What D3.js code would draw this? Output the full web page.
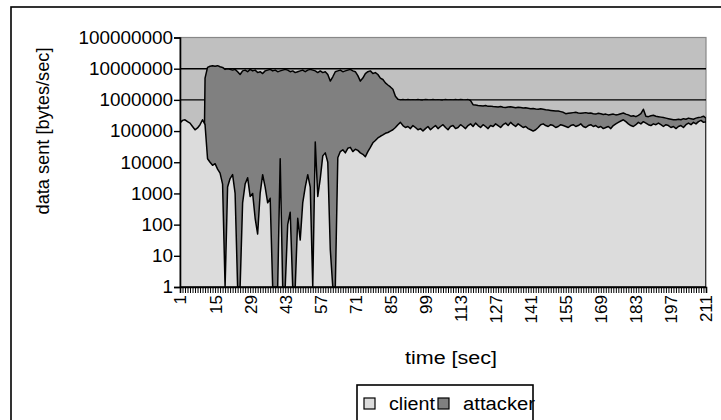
<!DOCTYPE html>
<html>
<head>
<meta charset="utf-8">
<script src="https://cdn.jsdelivr.net/npm/d3@7"></script>
<style>
  html, body { margin: 0; padding: 0; background: #ffffff; }
  svg { display: block; font-family: "Liberation Sans", Arial, sans-serif; }
</style>
</head>
<body>
<svg id="chart" width="721" height="420"></svg>
<script>
// ---- data ----
const categories = d3.range(1, 212);           // time [sec] 1..211
const tickLabels = [1, 15, 29, 43, 57, 71, 85, 99, 113, 127, 141, 155, 169, 183, 197, 211];
const yTicks = [1, 10, 100, 1000, 10000, 100000, 1000000, 10000000, 100000000];
const seriesNames = ["client", "attacker"];

const client = [
  1.8e5,2.2e5,2.3e5,2.0e5,1.8e5,1.4e5,1.1e5,1.26e5,1.6e5,2.3e5,
  1.6e5,1.3e4,1.0e4,8e3,9e3,6e3,4.5e3,2e3,1,1.6e3,
  3e3,4e3,1e3,1,1,500,2e3,3.2e3,800,1e3,
  160,50,1e3,4e3,1.6e3,500,700,1,1,1,
  1.3e4,1,1,100,250,1,1,160,32,500,
  1.6e3,4e3,1.6e3,1,4.5e4,800,3e3,1.6e4,2e4,1e4,
  16,1,1,1.4e4,2.2e4,2.5e4,2.0e4,2.8e4,3e4,2.2e4,
  2.6e4,2.4e4,2.0e4,1.8e4,1.5e4,2.2e4,3e4,4.2e4,5e4,6e4,
  6.8e4,7.5e4,8.5e4,9e4,1.0e5,1.1e5,1.3e5,1.6e5,1.9e5,1.5e5,
  1.3e5,1.4e5,1.2e5,1.5e5,1.3e5,1.1e5,1.2e5,1.0e5,1.2e5,1.4e5,
  1.1e5,1.3e5,1.5e5,1.2e5,1.4e5,1.6e5,1.3e5,1.1e5,1.4e5,1.5e5,
  1.2e5,1.3e5,1.6e5,1.4e5,1.2e5,1.5e5,1.7e5,1.4e5,1.8e5,1.5e5,
  1.3e5,1.6e5,1.4e5,1.2e5,1.5e5,1.4e5,1.7e5,1.5e5,1.3e5,1.6e5,
  1.8e5,1.5e5,1.9e5,1.6e5,1.4e5,1.7e5,1.5e5,1.3e5,1.4e5,1.2e5,
  1.1e5,1.0e5,1.1e5,1.3e5,1.6e5,1.7e5,1.5e5,1.4e5,1.6e5,1.5e5,
  1.3e5,1.4e5,1.6e5,1.5e5,1.4e5,1.3e5,1.5e5,1.6e5,1.4e5,1.5e5,
  1.7e5,1.4e5,1.3e5,1.5e5,1.6e5,1.4e5,1.5e5,1.3e5,1.4e5,1.2e5,
  1.3e5,1.4e5,1.2e5,1.5e5,1.7e5,1.9e5,2.1e5,2.3e5,2.0e5,1.7e5,
  1.5e5,1.4e5,1.6e5,1.9e5,1.7e5,2.0e5,1.8e5,1.6e5,1.5e5,1.7e5,
  1.6e5,1.8e5,1.6e5,1.4e5,1.6e5,1.5e5,1.3e5,1.4e5,1.2e5,1.4e5,
  1.5e5,1.3e5,1.6e5,1.8e5,1.6e5,1.9e5,1.7e5,2.0e5,2.2e5,1.9e5,
  2.0e5
];

const attacker = [
  1,1,1,1,1,1,1,1,1,1,
  5e6,1.1e7,1.2e7,1.25e7,1.2e7,1.25e7,1.15e7,1.1e7,9.5e6,1.0e7,
  9.5e6,9e6,9.5e6,8e6,6.5e6,8.5e6,9e6,8e6,9.5e6,8.5e6,
  9e6,7.5e6,8e6,7e6,8.5e6,9e6,9.5e6,8.5e6,9e6,8e6,
  8.5e6,9e6,9.5e6,9e6,8e6,8.5e6,7.5e6,8e6,8.5e6,9e6,
  8e6,9e6,9.5e6,9e6,8.5e6,7.5e6,8.5e6,7.5e6,8e6,6.5e6,
  4e6,5.5e6,8e6,8.5e6,9e6,8e6,8.5e6,9e6,9.5e6,8.5e6,
  8e6,6e6,4e6,5e6,7e6,8e6,8.5e6,7e6,7.5e6,6.5e6,
  5e6,4.5e6,3.5e6,3e6,2.6e6,2.2e6,1.3e6,1.05e6,1.0e6,1.02e6,
  1.0e6,1.03e6,1.0e6,1.01e6,1.0e6,1.02e6,1.0e6,1.0e6,1.03e6,1.01e6,
  1.0e6,1.02e6,1.0e6,1.01e6,1.0e6,1.0e6,1.02e6,1.0e6,1.01e6,1.0e6,
  1.02e6,1.0e6,1.03e6,1.01e6,1.0e6,1.02e6,9.5e5,7e5,6.8e5,6.6e5,
  6.5e5,6.4e5,6.6e5,6.2e5,6.3e5,6.1e5,6.0e5,5.9e5,6.1e5,5.8e5,
  5.7e5,5.9e5,6.0e5,5.8e5,5.6e5,5.8e5,5.7e5,5.5e5,5.6e5,5.4e5,
  5.2e5,5.3e5,5.1e5,5.0e5,5.2e5,5.0e5,4.8e5,4.7e5,4.6e5,4.5e5,
  4.4e5,4.4e5,4.2e5,4.0e5,3.6e5,3.7e5,3.8e5,3.9e5,4.0e5,3.8e5,
  3.7e5,3.8e5,3.9e5,3.7e5,3.8e5,3.6e5,3.5e5,3.7e5,3.6e5,3.4e5,
  3.5e5,3.3e5,3.4e5,3.5e5,3.3e5,3.4e5,3.6e5,3.8e5,3.5e5,3.3e5,
  3.0e5,3.1e5,2.9e5,3.2e5,3.6e5,5.0e5,3.0e5,2.9e5,3.1e5,3.2e5,
  3.0e5,2.9e5,2.8e5,2.7e5,2.6e5,2.5e5,2.4e5,2.3e5,2.3e5,2.4e5,
  2.3e5,2.5e5,2.4e5,2.6e5,2.5e5,2.4e5,2.6e5,2.7e5,2.8e5,3.0e5,
  2.6e5
];

// ---- layout ----
const svg = d3.select("#chart");
const plot = { left: 180, right: 706, top: 37.5, bottom: 287 };
const colors = { bg: "#c0c0c0", client: "#dcdcdc", attacker: "#808080" };

// outer frame
svg.append("rect")
  .attr("x", 11).attr("y", 7).attr("width", 716).attr("height", 420)
  .attr("fill", "#fff").attr("stroke", "#000").attr("stroke-width", 1.6);

const x = d3.scalePoint().domain(categories).range([plot.left, plot.right]).padding(0);
const y = d3.scaleLog().domain([1, 1e8]).range([plot.bottom, plot.top]);

// plot background
svg.append("rect")
  .attr("x", plot.left).attr("y", plot.top)
  .attr("width", plot.right - plot.left).attr("height", plot.bottom - plot.top)
  .attr("fill", colors.bg).attr("stroke", "#888").attr("stroke-width", 1.2);

// gridlines
svg.append("g").selectAll("line")
  .data(yTicks.filter(v => v > 1 && v < 1e8))
  .join("line")
  .attr("x1", plot.left).attr("x2", plot.right)
  .attr("y1", d => y(d)).attr("y2", d => y(d))
  .attr("stroke", "#000").attr("stroke-width", 1.4);

svg.append("defs").append("clipPath").attr("id", "clip")
  .append("rect")
  .attr("x", plot.left).attr("y", plot.top)
  .attr("width", plot.right - plot.left).attr("height", plot.bottom - plot.top);

const area = d3.area()
  .x((d, i) => x(categories[i]))
  .y0(y(1))
  .y1(d => y(d));

const g = svg.append("g").attr("clip-path", "url(#clip)");
g.append("path").datum(attacker).attr("d", area)
  .attr("fill", colors.attacker).attr("stroke", "#000").attr("stroke-width", 1.5)
  .attr("stroke-linejoin", "round");
g.append("path").datum(client).attr("d", area)
  .attr("fill", colors.client).attr("stroke", "#000").attr("stroke-width", 1.5)
  .attr("stroke-linejoin", "round");

// y axis
const yAxis = svg.append("g")
  .attr("transform", `translate(${plot.left},0)`)
  .call(d3.axisLeft(y).tickValues(yTicks).tickFormat(d3.format("d")).tickSize(6).tickPadding(1));
yAxis.select(".domain").attr("stroke", "#000").attr("stroke-width", 1.6);
yAxis.selectAll(".tick line").attr("stroke", "#000").attr("stroke-width", 1.4);
yAxis.selectAll(".tick text")
  .attr("font-family", "Liberation Sans, Arial, sans-serif")
  .attr("font-size", 18).attr("fill", "#000")
  .attr("textLength", d => String(d).length * 10.5)
  .attr("lengthAdjust", "spacingAndGlyphs");

// x axis
const labelSet = new Set(tickLabels);
const xAxis = svg.append("g")
  .attr("transform", `translate(0,${plot.bottom})`)
  .call(d3.axisBottom(x).tickSize(6).tickFormat(d => labelSet.has(d) ? String(d) : ""));
xAxis.select(".domain").attr("stroke", "#000").attr("stroke-width", 1.6);
xAxis.selectAll(".tick line").attr("stroke", "#000").attr("stroke-width", 1);
xAxis.selectAll(".tick text")
  .attr("font-family", "Liberation Sans, Arial, sans-serif")
  .attr("font-size", 17).attr("fill", "#000")
  .attr("text-anchor", "end")
  .attr("transform", "rotate(-90)")
  .attr("x", -8).attr("y", 0).attr("dy", "0.35em");

// axis titles
svg.append("text")
  .attr("transform", "translate(49,131) rotate(-90)")
  .attr("text-anchor", "middle")
  .attr("font-size", 18).attr("fill", "#000")
  .attr("textLength", 167).attr("lengthAdjust", "spacingAndGlyphs")
  .text("data sent [bytes/sec]");

svg.append("text")
  .attr("x", 451).attr("y", 364)
  .attr("text-anchor", "middle")
  .attr("font-size", 18).attr("fill", "#000")
  .attr("textLength", 92).attr("lengthAdjust", "spacingAndGlyphs")
  .text("time [sec]");

// legend
const legend = svg.append("g");
legend.append("rect")
  .attr("x", 357).attr("y", 385).attr("width", 176).attr("height", 45)
  .attr("fill", "#fff").attr("stroke", "#000").attr("stroke-width", 1.6);
const legendItems = [
  { name: seriesNames[0], color: colors.client, sx: 364, tx: 389, tl: 46 },
  { name: seriesNames[1], color: colors.attacker, sx: 438, tx: 463, tl: 72 }
];
legendItems.forEach(it => {
  legend.append("rect")
    .attr("x", it.sx).attr("y", 398).attr("width", 11).attr("height", 11)
    .attr("fill", it.color).attr("stroke", "#000").attr("stroke-width", 1.2);
  legend.append("text")
    .attr("x", it.tx).attr("y", 410)
    .attr("font-size", 18).attr("fill", "#000")
    .attr("textLength", it.tl).attr("lengthAdjust", "spacingAndGlyphs")
    .text(it.name);
});
</script>
</body>
</html>
